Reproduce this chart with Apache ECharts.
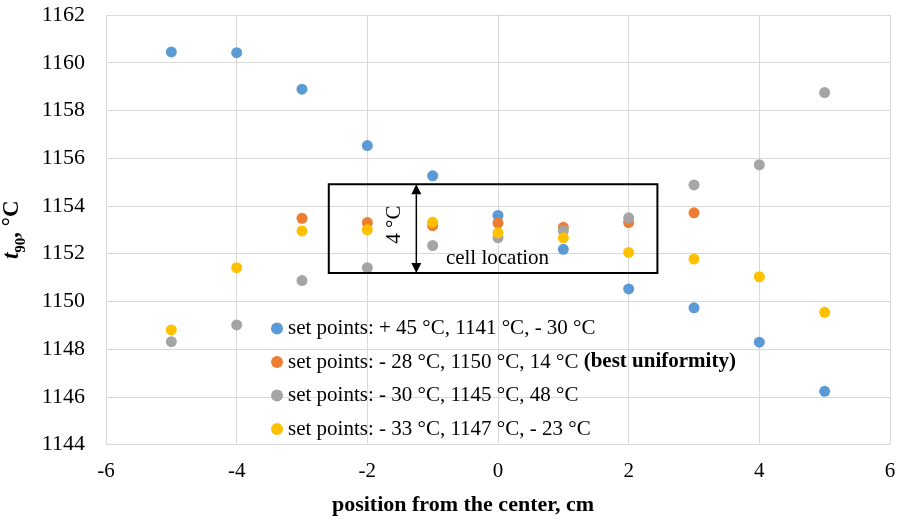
<!DOCTYPE html>
<html>
<head>
<meta charset="utf-8">
<script src="https://cdn.jsdelivr.net/npm/echarts@6/dist/echarts.min.js"></script>
<style>
html,body{margin:0;padding:0;background:#fff;}
#chart{width:899px;height:519px;}
</style>
</head>
<body>
<div id="chart"></div>
<script>
const positions = [-5, -4, -3, -2, -1, 0, 1, 2, 3, 4, 5];
const seriesNames = [
  'set points: + 45 °C, 1141 °C, - 30 °C',
  'set points: - 28 °C, 1150 °C, 14 °C',
  'set points: - 30 °C, 1145 °C, 48 °C',
  'set points: - 33 °C, 1147 °C, - 23 °C'
];
const blueValues   = [1160.45, 1160.42, 1158.89, 1156.53, 1155.26, 1153.6, 1152.18, 1150.52, 1149.73, 1148.29, 1146.23];
const orangeValues = [null, null, 1153.48, 1153.3, 1153.17, 1153.28, 1153.1, 1153.3, 1153.71, null, null];
const grayValues   = [1148.31, 1149.01, 1150.87, 1151.41, 1152.34, 1152.66, 1152.96, 1153.5, 1154.88, 1155.72, 1158.75];
const yellowValues = [1148.8, 1151.41, 1152.95, 1153.0, 1153.31, 1152.87, 1152.66, 1152.05, 1151.77, 1151.03, 1149.54];
const colors = ['#5B9BD5', '#ED7D31', '#A5A5A5', '#FFC000'];
const xTicks = [-6, -4, -2, 0, 2, 4, 6];
const yTicks = [1144, 1146, 1148, 1150, 1152, 1154, 1156, 1158, 1160, 1162];
const cellBox = {x0: -2.59, x1: 2.44, y0: 1151.19, y1: 1154.91, arrowX: -1.25};

const FONT = 'Liberation Serif';
const valueSets = [blueValues, orangeValues, grayValues, yellowValues];
function pairs(vals) {
  const out = [];
  positions.forEach((p, i) => { if (vals[i] !== null) out.push([p, vals[i]]); });
  return out;
}
const chart = echarts.init(document.getElementById('chart'));
const option = {
  animation: false,
  backgroundColor: '#fff',
  grid: {left: 106, right: 9, top: 15, bottom: 74.5, containLabel: false, outerBoundsMode: 'none'},
  xAxis: {
    type: 'value', min: xTicks[0], max: xTicks[xTicks.length - 1], interval: 2,
    axisLine: {show: true, lineStyle: {color: '#d9d9d9', width: 1}},
    axisTick: {show: false},
    splitLine: {show: true, lineStyle: {color: '#d9d9d9', width: 1}},
    axisLabel: {fontFamily: FONT, fontSize: 21, color: '#000', margin: 16, formatter: v => String(v)}
  },
  yAxis: {
    type: 'value', min: yTicks[0], max: yTicks[yTicks.length - 1], interval: 2,
    axisLine: {show: true, lineStyle: {color: '#d9d9d9', width: 1}},
    axisTick: {show: false},
    splitLine: {show: true, lineStyle: {color: '#d9d9d9', width: 1}},
    axisLabel: {fontFamily: FONT, fontSize: 22, color: '#000', margin: 21, formatter: v => String(v)},
    name: '{i|t}{s|90}{n|, °C}',
    nameLocation: 'middle',
    nameGap: 82,
    nameRotate: 90,
    nameTextStyle: {
      fontFamily: FONT, color: '#000',
      rich: {
        i: {fontFamily: FONT, fontSize: 23, fontStyle: 'italic', fontWeight: 'bold', color: '#000', verticalAlign: 'bottom', lineHeight: 24},
        s: {fontFamily: FONT, fontSize: 15, fontWeight: 'bold', color: '#000', verticalAlign: 'bottom', lineHeight: 18, padding: [0, 0, -5, 0]},
        n: {fontFamily: FONT, fontSize: 23, fontWeight: 'bold', color: '#000', verticalAlign: 'bottom', lineHeight: 24}
      }
    }
  },
  legend: {
    orient: 'vertical',
    left: 266, top: 313,
    itemWidth: 12, itemHeight: 12, itemGap: 12.5,
    icon: 'circle',
    data: seriesNames,
    textStyle: {fontFamily: FONT, fontSize: 21, color: '#000', lineHeight: 21,
      rich: {
        n: {fontFamily: FONT, fontSize: 21, color: '#000'},
        b: {fontFamily: FONT, fontSize: 21, color: '#000', fontWeight: 'bold'}
      }
    },
    formatter: function (name) {
      if (name === seriesNames[1]) return '{n|' + name + '} {b|(best uniformity)}';
      return '{n|' + name + '}';
    }
  },
  series: valueSets.map((vals, k) => ({
    name: seriesNames[k],
    type: 'scatter',
    symbol: 'circle',
    symbolSize: 11,
    itemStyle: {color: colors[k], opacity: 1},
    data: pairs(vals)
  })),
  graphic: []
};
chart.setOption(option);

const p0 = chart.convertToPixel({gridIndex: 0}, [cellBox.x0, cellBox.y1]);
const p1 = chart.convertToPixel({gridIndex: 0}, [cellBox.x1, cellBox.y0]);
const ax = chart.convertToPixel({gridIndex: 0}, [cellBox.arrowX, cellBox.y1])[0];
const boxTop = p0[1], boxBot = p1[1];
const ah = 10, aw = 5;
chart.setOption({
  graphic: [
    {type: 'rect', shape: {x: p0[0], y: p0[1], width: p1[0] - p0[0], height: p1[1] - p0[1]},
     style: {fill: null, stroke: '#000', lineWidth: 2}, z: 10},
    {type: 'line', shape: {x1: ax, y1: boxTop + ah, x2: ax, y2: boxBot - ah}, style: {stroke: '#000', lineWidth: 1.5}, z: 10},
    {type: 'polygon', shape: {points: [[ax, boxTop], [ax - aw, boxTop + ah], [ax + aw, boxTop + ah]]}, style: {fill: '#000'}, z: 10},
    {type: 'polygon', shape: {points: [[ax, boxBot], [ax - aw, boxBot - ah], [ax + aw, boxBot - ah]]}, style: {fill: '#000'}, z: 10},
    {type: 'text', x: ax - 22, y: (boxTop + boxBot) / 2 - 4, rotation: Math.PI / 2,
     style: {text: '4 °C', fontFamily: FONT, fontSize: 21, fill: '#000', align: 'center', verticalAlign: 'middle'}, z: 10},
    {type: 'text', x: 497.5, y: 258,
     style: {text: 'cell location', fontFamily: FONT, fontSize: 21, fill: '#000', align: 'center', verticalAlign: 'middle'}, z: 10},
    {type: 'text', x: 463, y: 505,
     style: {text: 'position from the center, cm', fontFamily: FONT, fontSize: 22, fontWeight: 'bold', fill: '#000', align: 'center', verticalAlign: 'middle'}, z: 10}
  ]
});
</script>
</body>
</html>
